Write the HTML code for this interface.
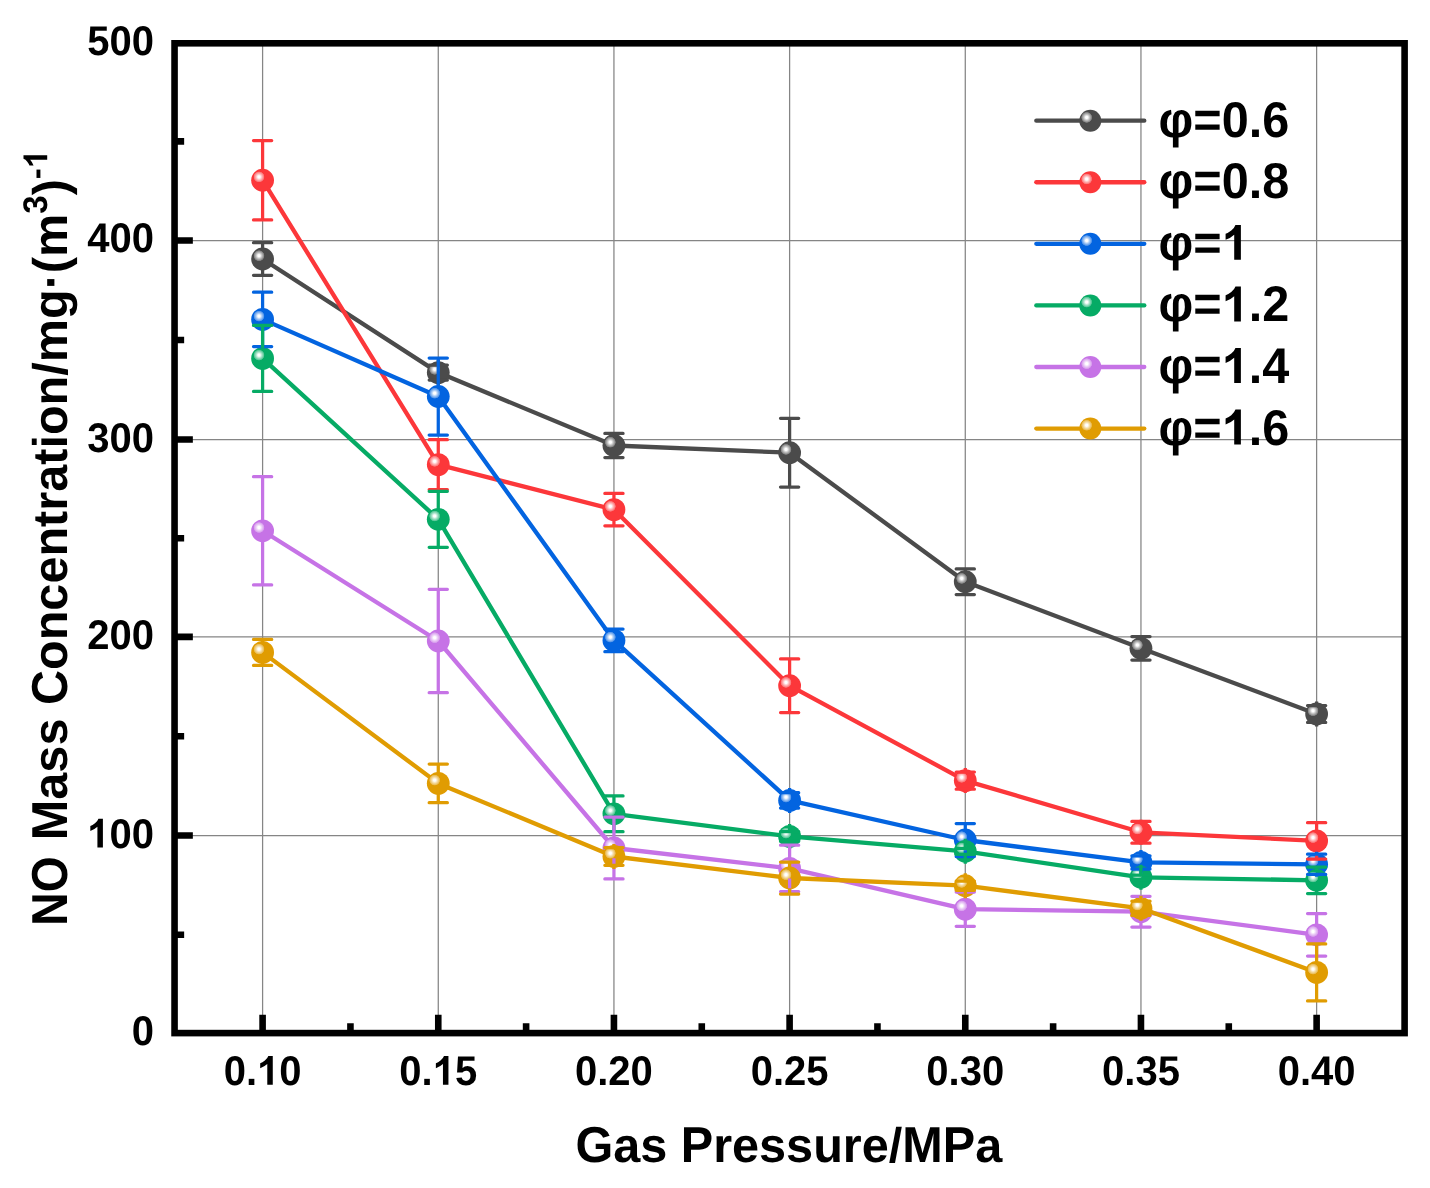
<!DOCTYPE html>
<html><head><meta charset="utf-8"><title>NO Mass Concentration vs Gas Pressure</title>
<style>html,body{margin:0;padding:0;background:#fff;}svg{display:block;will-change:transform;}text{text-rendering:geometricPrecision;font-kerning:none;font-family:"Liberation Sans",sans-serif;font-weight:bold;fill:#000;}</style>
</head><body>
<svg width="1430" height="1188" viewBox="0 0 1430 1188">
<defs>
<radialGradient id="hl" cx="0.5" cy="0.5" r="0.5"><stop offset="0" stop-color="#fff" stop-opacity="1"/><stop offset="0.2" stop-color="#fff" stop-opacity="1"/><stop offset="0.5" stop-color="#fff" stop-opacity="0.68"/><stop offset="0.75" stop-color="#fff" stop-opacity="0.44"/><stop offset="0.92" stop-color="#fff" stop-opacity="0.26"/><stop offset="1" stop-color="#fff" stop-opacity="0"/></radialGradient>
</defs>
<rect x="0" y="0" width="1430" height="1188" fill="#fff"/>
<path d="M262.60 43.30V1033.10M438.27 43.30V1033.10M613.94 43.30V1033.10M789.61 43.30V1033.10M965.28 43.30V1033.10M1140.95 43.30V1033.10M1316.62 43.30V1033.10M174.55 835.55H1404.60M174.55 636.90H1404.60M174.55 439.50H1404.60M174.55 240.50H1404.60" stroke="#858585" stroke-width="1.25" fill="none"/>
<polyline points="262.60,259.00 438.27,372.60 613.94,445.50 789.61,452.70 965.28,581.70 1140.95,648.30 1316.62,714.00" fill="none" stroke="#4b4b4b" stroke-width="4.3" stroke-linejoin="round" stroke-linecap="round"/>
<circle cx="262.60" cy="259.00" r="11.4" fill="#4b4b4b"/><circle cx="259.00" cy="255.70" r="5.6" fill="url(#hl)"/>
<circle cx="438.27" cy="372.60" r="11.4" fill="#4b4b4b"/><circle cx="434.67" cy="369.30" r="5.6" fill="url(#hl)"/>
<circle cx="613.94" cy="445.50" r="11.4" fill="#4b4b4b"/><circle cx="610.34" cy="442.20" r="5.6" fill="url(#hl)"/>
<circle cx="789.61" cy="452.70" r="11.4" fill="#4b4b4b"/><circle cx="786.01" cy="449.40" r="5.6" fill="url(#hl)"/>
<circle cx="965.28" cy="581.70" r="11.4" fill="#4b4b4b"/><circle cx="961.68" cy="578.40" r="5.6" fill="url(#hl)"/>
<circle cx="1140.95" cy="648.30" r="11.4" fill="#4b4b4b"/><circle cx="1137.35" cy="645.00" r="5.6" fill="url(#hl)"/>
<circle cx="1316.62" cy="714.00" r="11.4" fill="#4b4b4b"/><circle cx="1313.02" cy="710.70" r="5.6" fill="url(#hl)"/>
<polyline points="262.60,180.20 438.27,464.60 613.94,509.60 789.61,685.70 965.28,780.60 1140.95,832.30 1316.62,840.90" fill="none" stroke="#fc373a" stroke-width="4.3" stroke-linejoin="round" stroke-linecap="round"/>
<circle cx="262.60" cy="180.20" r="11.4" fill="#fc373a"/><circle cx="259.00" cy="176.90" r="5.6" fill="url(#hl)"/>
<circle cx="438.27" cy="464.60" r="11.4" fill="#fc373a"/><circle cx="434.67" cy="461.30" r="5.6" fill="url(#hl)"/>
<circle cx="613.94" cy="509.60" r="11.4" fill="#fc373a"/><circle cx="610.34" cy="506.30" r="5.6" fill="url(#hl)"/>
<circle cx="789.61" cy="685.70" r="11.4" fill="#fc373a"/><circle cx="786.01" cy="682.40" r="5.6" fill="url(#hl)"/>
<circle cx="965.28" cy="780.60" r="11.4" fill="#fc373a"/><circle cx="961.68" cy="777.30" r="5.6" fill="url(#hl)"/>
<circle cx="1140.95" cy="832.30" r="11.4" fill="#fc373a"/><circle cx="1137.35" cy="829.00" r="5.6" fill="url(#hl)"/>
<circle cx="1316.62" cy="840.90" r="11.4" fill="#fc373a"/><circle cx="1313.02" cy="837.60" r="5.6" fill="url(#hl)"/>
<polyline points="262.60,319.40 438.27,396.50 613.94,640.40 789.61,800.40 965.28,840.00 1140.95,862.40 1316.62,864.30" fill="none" stroke="#0364e0" stroke-width="4.3" stroke-linejoin="round" stroke-linecap="round"/>
<circle cx="262.60" cy="319.40" r="11.4" fill="#0364e0"/><circle cx="259.00" cy="316.10" r="5.6" fill="url(#hl)"/>
<circle cx="438.27" cy="396.50" r="11.4" fill="#0364e0"/><circle cx="434.67" cy="393.20" r="5.6" fill="url(#hl)"/>
<circle cx="613.94" cy="640.40" r="11.4" fill="#0364e0"/><circle cx="610.34" cy="637.10" r="5.6" fill="url(#hl)"/>
<circle cx="789.61" cy="800.40" r="11.4" fill="#0364e0"/><circle cx="786.01" cy="797.10" r="5.6" fill="url(#hl)"/>
<circle cx="965.28" cy="840.00" r="11.4" fill="#0364e0"/><circle cx="961.68" cy="836.70" r="5.6" fill="url(#hl)"/>
<circle cx="1140.95" cy="862.40" r="11.4" fill="#0364e0"/><circle cx="1137.35" cy="859.10" r="5.6" fill="url(#hl)"/>
<circle cx="1316.62" cy="864.30" r="11.4" fill="#0364e0"/><circle cx="1313.02" cy="861.00" r="5.6" fill="url(#hl)"/>
<polyline points="262.60,358.40 438.27,519.30 613.94,813.80 789.61,836.40 965.28,851.30 1140.95,877.30 1316.62,880.30" fill="none" stroke="#06ab65" stroke-width="4.3" stroke-linejoin="round" stroke-linecap="round"/>
<circle cx="262.60" cy="358.40" r="11.4" fill="#06ab65"/><circle cx="259.00" cy="355.10" r="5.6" fill="url(#hl)"/>
<circle cx="438.27" cy="519.30" r="11.4" fill="#06ab65"/><circle cx="434.67" cy="516.00" r="5.6" fill="url(#hl)"/>
<circle cx="613.94" cy="813.80" r="11.4" fill="#06ab65"/><circle cx="610.34" cy="810.50" r="5.6" fill="url(#hl)"/>
<circle cx="789.61" cy="836.40" r="11.4" fill="#06ab65"/><circle cx="786.01" cy="833.10" r="5.6" fill="url(#hl)"/>
<circle cx="965.28" cy="851.30" r="11.4" fill="#06ab65"/><circle cx="961.68" cy="848.00" r="5.6" fill="url(#hl)"/>
<circle cx="1140.95" cy="877.30" r="11.4" fill="#06ab65"/><circle cx="1137.35" cy="874.00" r="5.6" fill="url(#hl)"/>
<circle cx="1316.62" cy="880.30" r="11.4" fill="#06ab65"/><circle cx="1313.02" cy="877.00" r="5.6" fill="url(#hl)"/>
<polyline points="262.60,530.80 438.27,641.00 613.94,848.00 789.61,868.40 965.28,909.20 1140.95,911.70 1316.62,934.80" fill="none" stroke="#c673e6" stroke-width="4.3" stroke-linejoin="round" stroke-linecap="round"/>
<circle cx="262.60" cy="530.80" r="11.4" fill="#c673e6"/><circle cx="259.00" cy="527.50" r="5.6" fill="url(#hl)"/>
<circle cx="438.27" cy="641.00" r="11.4" fill="#c673e6"/><circle cx="434.67" cy="637.70" r="5.6" fill="url(#hl)"/>
<circle cx="613.94" cy="848.00" r="11.4" fill="#c673e6"/><circle cx="610.34" cy="844.70" r="5.6" fill="url(#hl)"/>
<circle cx="789.61" cy="868.40" r="11.4" fill="#c673e6"/><circle cx="786.01" cy="865.10" r="5.6" fill="url(#hl)"/>
<circle cx="965.28" cy="909.20" r="11.4" fill="#c673e6"/><circle cx="961.68" cy="905.90" r="5.6" fill="url(#hl)"/>
<circle cx="1140.95" cy="911.70" r="11.4" fill="#c673e6"/><circle cx="1137.35" cy="908.40" r="5.6" fill="url(#hl)"/>
<circle cx="1316.62" cy="934.80" r="11.4" fill="#c673e6"/><circle cx="1313.02" cy="931.50" r="5.6" fill="url(#hl)"/>
<polyline points="262.60,652.40 438.27,783.40 613.94,856.50 789.61,878.00 965.28,885.70 1140.95,908.30 1316.62,972.40" fill="none" stroke="#e09c02" stroke-width="4.3" stroke-linejoin="round" stroke-linecap="round"/>
<circle cx="262.60" cy="652.40" r="11.4" fill="#e09c02"/><circle cx="259.00" cy="649.10" r="5.6" fill="url(#hl)"/>
<circle cx="438.27" cy="783.40" r="11.4" fill="#e09c02"/><circle cx="434.67" cy="780.10" r="5.6" fill="url(#hl)"/>
<circle cx="613.94" cy="856.50" r="11.4" fill="#e09c02"/><circle cx="610.34" cy="853.20" r="5.6" fill="url(#hl)"/>
<circle cx="789.61" cy="878.00" r="11.4" fill="#e09c02"/><circle cx="786.01" cy="874.70" r="5.6" fill="url(#hl)"/>
<circle cx="965.28" cy="885.70" r="11.4" fill="#e09c02"/><circle cx="961.68" cy="882.40" r="5.6" fill="url(#hl)"/>
<circle cx="1140.95" cy="908.30" r="11.4" fill="#e09c02"/><circle cx="1137.35" cy="905.00" r="5.6" fill="url(#hl)"/>
<circle cx="1316.62" cy="972.40" r="11.4" fill="#e09c02"/><circle cx="1313.02" cy="969.10" r="5.6" fill="url(#hl)"/>
<path d="M262.60 242.70V248.80M262.60 269.20V275.30M438.27 365.10V360.10M438.27 385.10V380.10M613.94 433.40V433.00M613.94 458.00V457.60M789.61 418.30V442.50M789.61 462.90V487.10M965.28 568.90V571.50M965.28 591.90V594.50M1140.95 636.55V635.80M1140.95 660.80V660.05M1316.62 705.60V701.50M1316.62 726.50V722.40" fill="none" stroke="#4b4b4b" stroke-width="3.25"/>
<path d="M253.50 242.70H271.70M253.50 275.30H271.70M429.17 365.10H447.37M429.17 380.10H447.37M604.84 433.40H623.04M604.84 457.60H623.04M780.51 418.30H798.71M780.51 487.10H798.71M956.18 568.90H974.38M956.18 594.50H974.38M1131.85 636.55H1150.05M1131.85 660.05H1150.05M1307.52 705.60H1325.72M1307.52 722.40H1325.72" fill="none" stroke="#4b4b4b" stroke-width="3.25" stroke-linecap="round"/>
<path d="M262.60 140.50V170.00M262.60 190.40V219.90M438.27 439.70V454.40M438.27 474.80V489.50M613.94 493.40V499.40M613.94 519.80V525.80M789.61 658.90V675.50M789.61 695.90V712.50M965.28 772.00V768.10M965.28 793.10V789.20M1140.95 821.40V819.80M1140.95 844.80V843.20M1316.62 822.70V830.70M1316.62 851.10V859.10" fill="none" stroke="#fc373a" stroke-width="3.25"/>
<path d="M253.50 140.50H271.70M253.50 219.90H271.70M429.17 439.70H447.37M429.17 489.50H447.37M604.84 493.40H623.04M604.84 525.80H623.04M780.51 658.90H798.71M780.51 712.50H798.71M956.18 772.00H974.38M956.18 789.20H974.38M1131.85 821.40H1150.05M1131.85 843.20H1150.05M1307.52 822.70H1325.72M1307.52 859.10H1325.72" fill="none" stroke="#fc373a" stroke-width="3.25" stroke-linecap="round"/>
<path d="M262.60 292.20V309.20M262.60 329.60V346.60M438.27 358.00V386.30M438.27 406.70V435.00M613.94 629.10V627.90M613.94 652.90V651.70M789.61 792.70V787.90M789.61 812.90V808.10M965.28 823.50V829.80M965.28 850.20V856.50M1140.95 855.80V849.90M1140.95 874.90V869.00M1316.62 854.20V851.80M1316.62 876.80V874.40" fill="none" stroke="#0364e0" stroke-width="3.25"/>
<path d="M253.50 292.20H271.70M253.50 346.60H271.70M429.17 358.00H447.37M429.17 435.00H447.37M604.84 629.10H623.04M604.84 651.70H623.04M780.51 792.70H798.71M780.51 808.10H798.71M956.18 823.50H974.38M956.18 856.50H974.38M1131.85 855.80H1150.05M1131.85 869.00H1150.05M1307.52 854.20H1325.72M1307.52 874.40H1325.72" fill="none" stroke="#0364e0" stroke-width="3.25" stroke-linecap="round"/>
<path d="M262.60 325.40V348.20M262.60 368.60V391.40M438.27 491.30V509.10M438.27 529.50V547.30M613.94 795.90V803.60M613.94 824.00V831.70M789.61 831.50V823.90M789.61 848.90V841.30M965.28 848.30V838.80M965.28 863.80V854.30M1140.95 875.00V864.80M1140.95 889.80V879.60M1316.62 867.00V870.10M1316.62 890.50V893.60" fill="none" stroke="#06ab65" stroke-width="3.25"/>
<path d="M253.50 325.40H271.70M253.50 391.40H271.70M429.17 491.30H447.37M429.17 547.30H447.37M604.84 795.90H623.04M604.84 831.70H623.04M780.51 831.50H798.71M780.51 841.30H798.71M956.18 848.30H974.38M956.18 854.30H974.38M1131.85 875.00H1150.05M1131.85 879.60H1150.05M1307.52 867.00H1325.72M1307.52 893.60H1325.72" fill="none" stroke="#06ab65" stroke-width="3.25" stroke-linecap="round"/>
<path d="M262.60 476.70V520.60M262.60 541.00V584.90M438.27 589.30V630.80M438.27 651.20V692.70M613.94 817.10V837.80M613.94 858.20V878.90M789.61 845.20V858.20M789.61 878.60V891.60M965.28 892.10V899.00M965.28 919.40V926.30M1140.95 896.30V901.50M1140.95 921.90V927.10M1316.62 913.60V924.60M1316.62 945.00V956.00" fill="none" stroke="#c673e6" stroke-width="3.25"/>
<path d="M253.50 476.70H271.70M253.50 584.90H271.70M429.17 589.30H447.37M429.17 692.70H447.37M604.84 817.10H623.04M604.84 878.90H623.04M780.51 845.20H798.71M780.51 891.60H798.71M956.18 892.10H974.38M956.18 926.30H974.38M1131.85 896.30H1150.05M1131.85 927.10H1150.05M1307.52 913.60H1325.72M1307.52 956.00H1325.72" fill="none" stroke="#c673e6" stroke-width="3.25" stroke-linecap="round"/>
<path d="M262.60 639.40V642.20M262.60 662.60V665.40M438.27 764.10V773.20M438.27 793.60V802.70M613.94 847.70V844.00M613.94 869.00V865.30M789.61 862.00V867.80M789.61 888.20V894.00M965.28 881.10V873.20M965.28 898.20V890.30M1140.95 901.20V895.80M1140.95 920.80V915.40M1316.62 943.90V962.20M1316.62 982.60V1000.90" fill="none" stroke="#e09c02" stroke-width="3.25"/>
<path d="M253.50 639.40H271.70M253.50 665.40H271.70M429.17 764.10H447.37M429.17 802.70H447.37M604.84 847.70H623.04M604.84 865.30H623.04M780.51 862.00H798.71M780.51 894.00H798.71M956.18 881.10H974.38M956.18 890.30H974.38M1131.85 901.20H1150.05M1131.85 915.40H1150.05M1307.52 943.90H1325.72M1307.52 1000.90H1325.72" fill="none" stroke="#e09c02" stroke-width="3.25" stroke-linecap="round"/>
<path d="M262.60 1033.10V1014.80M438.27 1033.10V1014.80M613.94 1033.10V1014.80M789.61 1033.10V1014.80M965.28 1033.10V1014.80M1140.95 1033.10V1014.80M1316.62 1033.10V1014.80M350.44 1033.10V1023.30M526.11 1033.10V1023.30M701.78 1033.10V1023.30M877.45 1033.10V1023.30M1053.12 1033.10V1023.30M1228.78 1033.10V1023.30M174.55 835.55H192.85M174.55 636.90H192.85M174.55 439.50H192.85M174.55 240.50H192.85M174.55 934.77H184.15M174.55 736.22H184.15M174.55 538.20H184.15M174.55 340.00H184.15M174.55 141.40H184.15" stroke="#000" stroke-width="6.6" fill="none"/>
<rect x="174.55" y="43.3" width="1230.05" height="989.80" fill="none" stroke="#000" stroke-width="6.6"/>
<text transform="translate(223.67 1084.70) scale(1.0 1.035)" font-size="40">0.</text><path transform="translate(257.03 1084.70) scale(0.01953 0.01953)" d="M806 0H525V-1059Q371 -915 162 -846V-1101Q272 -1137 401 -1237.5T578 -1472H806Z" fill="#000"/><text transform="translate(279.28 1084.70) scale(1.0 1.035)" font-size="40">0</text>
<text transform="translate(399.34 1084.70) scale(1.0 1.035)" font-size="40">0.</text><path transform="translate(432.70 1084.70) scale(0.01953 0.01953)" d="M806 0H525V-1059Q371 -915 162 -846V-1101Q272 -1137 401 -1237.5T578 -1472H806Z" fill="#000"/><text transform="translate(454.95 1084.70) scale(1.0 1.035)" font-size="40">5</text>
<text transform="translate(575.01 1084.70) scale(1.0 1.035)" font-size="40">0.20</text>
<text transform="translate(750.68 1084.70) scale(1.0 1.035)" font-size="40">0.25</text>
<text transform="translate(926.35 1084.70) scale(1.0 1.035)" font-size="40">0.30</text>
<text transform="translate(1102.02 1084.70) scale(1.0 1.035)" font-size="40">0.35</text>
<text transform="translate(1277.69 1084.70) scale(1.0 1.035)" font-size="40">0.40</text>
<text transform="translate(131.65 1044.95) scale(1.0 1.035)" font-size="40">0</text>
<path transform="translate(87.16 847.50) scale(0.01953 0.01953)" d="M806 0H525V-1059Q371 -915 162 -846V-1101Q272 -1137 401 -1237.5T578 -1472H806Z" fill="#000"/><text transform="translate(109.41 847.50) scale(1.0 1.035)" font-size="40">00</text>
<text transform="translate(87.16 648.70) scale(1.0 1.035)" font-size="40">200</text>
<text transform="translate(87.16 451.50) scale(1.0 1.035)" font-size="40">300</text>
<text transform="translate(87.16 252.20) scale(1.0 1.035)" font-size="40">400</text>
<text transform="translate(87.16 54.90) scale(1.0 1.035)" font-size="40">500</text>
<text transform="translate(575.38 1161.50) scale(1.0 1.04)" font-size="48.6">G</text><text x="613.18" y="1161.50" font-size="48.6">as </text><text transform="translate(680.74 1161.50) scale(1.0 1.04)" font-size="48.6">P</text><text x="713.16" y="1161.50" font-size="48.6">ressure/</text><text transform="translate(902.29 1161.50) scale(1.0 1.04)" font-size="48.6">MP</text><text x="975.19" y="1161.50" font-size="48.6">a</text>
<g transform="translate(67.2 925.65) rotate(-90)"><text transform="translate(0.00 0.00) scale(0.95 1.04)" font-size="48.6">NO</text><text x="72.00" y="0.00" font-size="48.6"> </text><text transform="translate(85.50 0.00) scale(1.0 1.04)" font-size="48.6">M</text><text x="125.99" y="0.00" font-size="48.6">ass </text><text transform="translate(220.58 0.00) scale(1.0 1.04)" font-size="48.6">C</text><text x="255.67" y="0.00" font-size="48.6">oncentration/mg·(m</text><text transform="translate(711.96 -20.00) scale(1.0 1.035)" font-size="33">3</text><text x="730.32" y="0.00" font-size="48.6">)</text><text x="746.50" y="-20.00" font-size="33">-</text><path transform="translate(757.49 -20.00) scale(0.01611 0.01611)" d="M806 0H525V-1059Q371 -915 162 -846V-1101Q272 -1137 401 -1237.5T578 -1472H806Z" fill="#000"/></g>
<path d="M1036.3 120.70H1144.3" stroke="#4b4b4b" stroke-width="4.3" stroke-linecap="round" fill="none"/>
<circle cx="1090.30" cy="120.70" r="11.0" fill="#4b4b4b"/><circle cx="1086.70" cy="117.40" r="5.6" fill="url(#hl)"/>
<text transform="translate(1158.60 136.70) scale(1.0 1.035)" font-size="48.6">φ=0.6</text>
<path d="M1036.3 182.27H1144.3" stroke="#fc373a" stroke-width="4.3" stroke-linecap="round" fill="none"/>
<circle cx="1090.30" cy="182.27" r="11.0" fill="#fc373a"/><circle cx="1086.70" cy="178.97" r="5.6" fill="url(#hl)"/>
<text transform="translate(1158.60 198.27) scale(1.0 1.035)" font-size="48.6">φ=0.8</text>
<path d="M1036.3 243.84H1144.3" stroke="#0364e0" stroke-width="4.3" stroke-linecap="round" fill="none"/>
<circle cx="1090.30" cy="243.84" r="11.0" fill="#0364e0"/><circle cx="1086.70" cy="240.54" r="5.6" fill="url(#hl)"/>
<text transform="translate(1158.60 259.84) scale(1.0 1.035)" font-size="48.6">φ=</text><path transform="translate(1221.75 259.84) scale(0.02373 0.02373)" d="M806 0H525V-1059Q371 -915 162 -846V-1101Q272 -1137 401 -1237.5T578 -1472H806Z" fill="#000"/>
<path d="M1036.3 305.41H1144.3" stroke="#06ab65" stroke-width="4.3" stroke-linecap="round" fill="none"/>
<circle cx="1090.30" cy="305.41" r="11.0" fill="#06ab65"/><circle cx="1086.70" cy="302.11" r="5.6" fill="url(#hl)"/>
<text transform="translate(1158.60 321.41) scale(1.0 1.035)" font-size="48.6">φ=</text><path transform="translate(1221.75 321.41) scale(0.02373 0.02373)" d="M806 0H525V-1059Q371 -915 162 -846V-1101Q272 -1137 401 -1237.5T578 -1472H806Z" fill="#000"/><text transform="translate(1248.78 321.41) scale(1.0 1.035)" font-size="48.6">.2</text>
<path d="M1036.3 366.98H1144.3" stroke="#c673e6" stroke-width="4.3" stroke-linecap="round" fill="none"/>
<circle cx="1090.30" cy="366.98" r="11.0" fill="#c673e6"/><circle cx="1086.70" cy="363.68" r="5.6" fill="url(#hl)"/>
<text transform="translate(1158.60 382.98) scale(1.0 1.035)" font-size="48.6">φ=</text><path transform="translate(1221.75 382.98) scale(0.02373 0.02373)" d="M806 0H525V-1059Q371 -915 162 -846V-1101Q272 -1137 401 -1237.5T578 -1472H806Z" fill="#000"/><text transform="translate(1248.78 382.98) scale(1.0 1.035)" font-size="48.6">.4</text>
<path d="M1036.3 428.55H1144.3" stroke="#e09c02" stroke-width="4.3" stroke-linecap="round" fill="none"/>
<circle cx="1090.30" cy="428.55" r="11.0" fill="#e09c02"/><circle cx="1086.70" cy="425.25" r="5.6" fill="url(#hl)"/>
<text transform="translate(1158.60 444.55) scale(1.0 1.035)" font-size="48.6">φ=</text><path transform="translate(1221.75 444.55) scale(0.02373 0.02373)" d="M806 0H525V-1059Q371 -915 162 -846V-1101Q272 -1137 401 -1237.5T578 -1472H806Z" fill="#000"/><text transform="translate(1248.78 444.55) scale(1.0 1.035)" font-size="48.6">.6</text>
</svg></body></html>
